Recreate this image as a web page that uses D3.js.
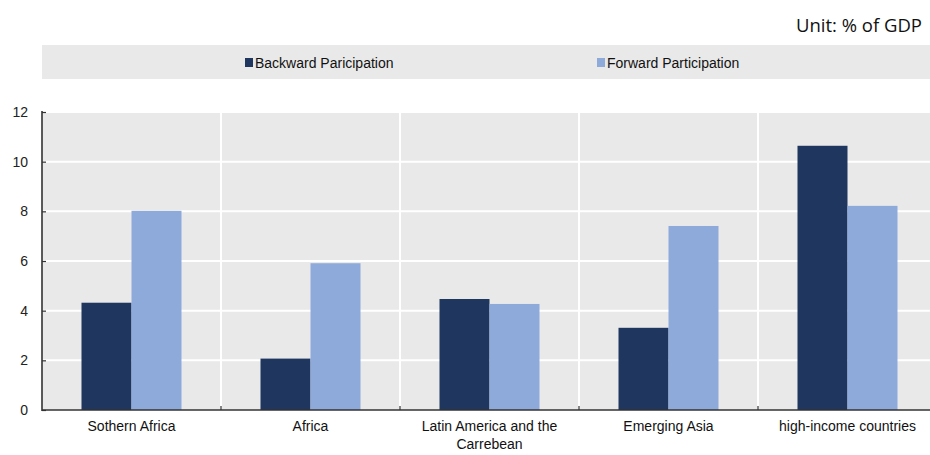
<!DOCTYPE html>
<html>
<head>
<meta charset="utf-8">
<script src="https://cdn.jsdelivr.net/npm/d3@7"></script>
<style>
  html, body { margin: 0; padding: 0; background: #fff; }
  svg { display: block; }
  .narrow { font-family: "Liberation Sans Narrow", "Arial Narrow", "Liberation Sans", Arial, sans-serif; }
</style>
</head>
<body>
<svg id="chart" width="930" height="455"></svg>
<script>
// Regions on the x axis
const categories = ["Sothern Africa", "Africa", "Latin America and the Carrebean", "Emerging Asia", "high-income countries"];
// Wrapped label lines for each region
const categoryLines = [["Sothern Africa"], ["Africa"], ["Latin America and the", "Carrebean"], ["Emerging Asia"], ["high-income countries"]];
// Series names and values (% of GDP)
const seriesNames = ["Backward Paricipation", "Forward Participation"];
const backward = [4.32, 2.07, 4.47, 3.31, 10.64];
const forward = [8.02, 5.91, 4.27, 7.41, 8.22];
const yTicks = [0, 2, 4, 6, 8, 10, 12];
const unitLabel = "Unit: % of GDP";

const colors = ["#1f375f", "#8eaadb"];
const svg = d3.select("#chart");

const plot = { left: 42, right: 937, top: 112, bottom: 410 };

const x = d3.scaleBand().domain(categories).range([plot.left, plot.right]).padding(0);
const groupWidth = 100;
const xs = d3.scaleBand().domain(seriesNames).range([0, groupWidth]).padding(0);
const y = d3.scaleLinear().domain([0, 12]).range([plot.bottom, plot.top]);

// Unit note
svg.append("text")
  .attr("x", 922).attr("y", 32)
  .attr("text-anchor", "end")
  .attr("font-family", "'Open Sans', 'Noto Sans', sans-serif")
  .attr("font-size", 18.5)
  .attr("fill", "#111")
  .text(unitLabel);

// Legend band
svg.append("rect")
  .attr("x", 42).attr("y", 45).attr("width", 888).attr("height", 34)
  .attr("fill", "#e9e9e9");

const legendX = [245, 597];
seriesNames.forEach((name, i) => {
  const g = svg.append("g").attr("transform", `translate(${legendX[i]},0)`);
  g.append("rect").attr("x", 0).attr("y", 58).attr("width", 8).attr("height", 9).attr("fill", colors[i]);
  g.append("text").attr("class", "narrow")
    .attr("x", 10).attr("y", 68)
    .attr("font-size", 14).attr("fill", "#111")
    .text(name);
});

// Plot background
svg.append("rect")
  .attr("x", plot.left).attr("y", plot.top)
  .attr("width", plot.right - plot.left).attr("height", plot.bottom - plot.top)
  .attr("fill", "#e9e9e9");

// Horizontal gridlines
svg.append("g").selectAll("line").data(yTicks.filter(d => d > 0)).join("line")
  .attr("x1", plot.left).attr("x2", plot.right)
  .attr("y1", d => y(d)).attr("y2", d => y(d))
  .attr("stroke", "#fff").attr("stroke-width", 2);

// Vertical separators between regions
const bounds = categories.slice(1).map(c => x(c));
svg.append("g").selectAll("line").data(bounds).join("line")
  .attr("x1", d => d).attr("x2", d => d)
  .attr("y1", plot.top).attr("y2", plot.bottom)
  .attr("stroke", "#fff").attr("stroke-width", 2);

// Bars
const series = [backward, forward];
const groups = svg.append("g").selectAll("g").data(categories).join("g")
  .attr("transform", c => `translate(${x(c) + (x.bandwidth() - groupWidth) / 2},0)`);
groups.selectAll("rect")
  .data((c, ci) => seriesNames.map((s, si) => ({ s, si, v: series[si][ci] })))
  .join("rect")
  .attr("x", d => xs(d.s))
  .attr("width", xs.bandwidth())
  .attr("y", d => y(d.v))
  .attr("height", d => y(0) - y(d.v))
  .attr("fill", d => colors[d.si]);

// Y axis
const yAxis = d3.axisRight(y).tickValues(yTicks).tickSize(4).tickFormat(d3.format("d"));
const yg = svg.append("g").attr("transform", `translate(${plot.left},0)`).call(yAxis);
yg.select(".domain").remove();
yg.selectAll(".tick line").attr("stroke", "#333").attr("stroke-width", 1.2);
yg.selectAll(".tick text")
  .attr("class", "narrow")
  .attr("x", -14).attr("text-anchor", "end")
  .attr("font-size", 14).attr("fill", "#222");
svg.append("line")
  .attr("x1", plot.left).attr("x2", plot.left)
  .attr("y1", plot.top - 1).attr("y2", plot.bottom + 1)
  .attr("stroke", "#333").attr("stroke-width", 1.6);

// X axis baseline and boundary ticks
svg.append("line")
  .attr("x1", plot.left).attr("x2", 930)
  .attr("y1", plot.bottom).attr("y2", plot.bottom)
  .attr("stroke", "#333").attr("stroke-width", 1.6);
svg.append("g").selectAll("line").data(bounds).join("line")
  .attr("x1", d => d).attr("x2", d => d)
  .attr("y1", plot.bottom).attr("y2", plot.bottom - 4)
  .attr("stroke", "#333").attr("stroke-width", 1.2);

// Category labels
const labels = svg.append("g").selectAll("text").data(categories).join("text")
  .attr("class", "narrow")
  .attr("text-anchor", "middle")
  .attr("font-size", 14).attr("fill", "#111")
  .attr("x", c => x(c) + x.bandwidth() / 2)
  .attr("y", 431);
labels.selectAll("tspan").data((c, i) => categoryLines[i]).join("tspan")
  .attr("x", function () { return d3.select(this.parentNode).attr("x"); })
  .attr("dy", (d, i) => i === 0 ? 0 : 18)
  .text(d => d);
</script>
</body>
</html>
